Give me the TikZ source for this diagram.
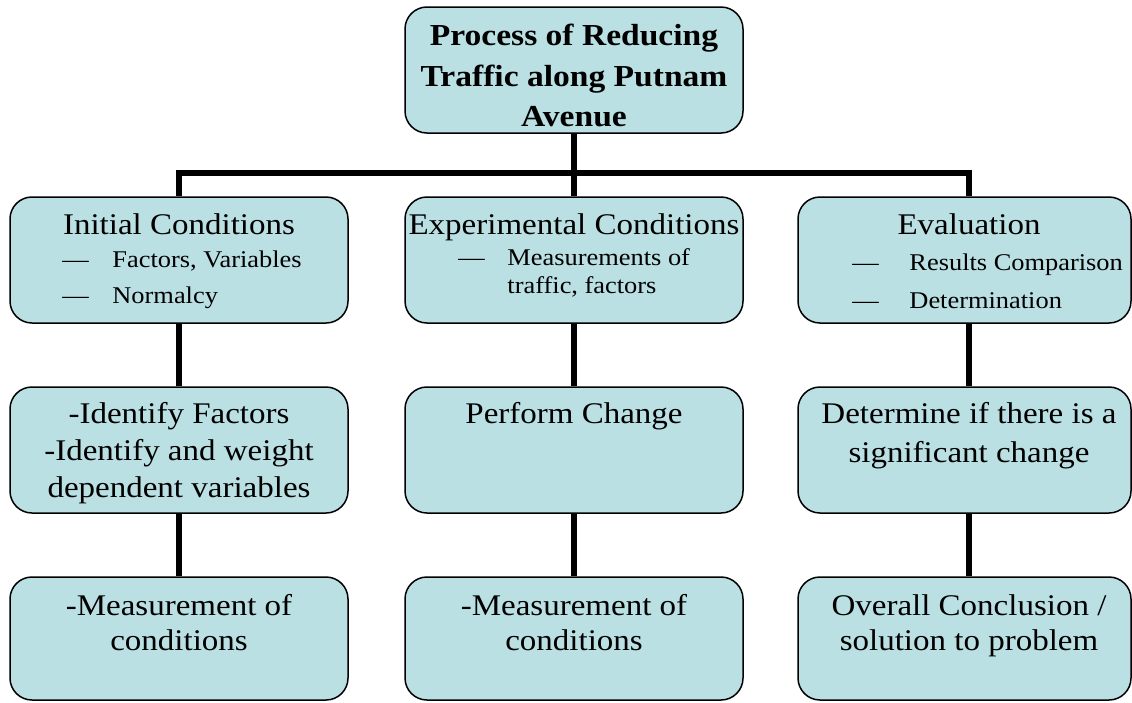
\documentclass[tikz,border=0pt]{standalone}
\usepackage{fontspec}
\setmainfont[FakeStretch=1.1]{Liberation Serif}
\usetikzlibrary{positioning}
\definecolor{boxblue}{RGB}{186,224,227}

\begin{document}
\begin{tikzpicture}[x=1pt, y=-1pt,
	box/.style={draw, line width=1.5pt, fill=boxblue, rounded corners=22pt,
		minimum width=338pt, minimum height=126pt, inner sep=0pt},
	head/.style={inner sep=0pt, anchor=north, align=center, font=\fontsize{30}{37}\selectfont},
	sub/.style={inner sep=0pt, anchor=north west, align=left},
	conn/.style={line width=5.5pt}]
  \useasboundingbox (0,0) rectangle (1132,702);
  \node[box] (proc) at (574,70) {};
  \node[box] (init) at (179,260) {};
  \node[box] (expc) at (574,260) {};
  \node[box, minimum width=333pt] (eval) at (964.5,260) {};
  \node[box] (ifac) at (179,450) {};
  \node[box] (perf) at (574,450) {};
  \node[box, minimum width=333pt] (sign) at (964.5,450) {};
  \node[box, minimum height=123pt] (meas1) at (179,638.5) {};
  \node[box, minimum height=123pt] (meas2) at (574,638.5) {};
  \node[box, minimum width=333pt, minimum height=123pt] (conc) at (964.5,638.5) {};

  \coordinate (bus) at ([yshift=-39pt]proc.south);
  \draw[conn] (proc.south) -- (expc.north);
  \draw[conn] (init.north) |- (bus) -| ([xshift=4.5pt]eval.north);
  \draw[conn] (init.south) -- (ifac.north);
  \draw[conn] (ifac.south) -- (meas1.north);
  \draw[conn] (expc.south) -- (perf.north);
  \draw[conn] (perf.south) -- (meas2.north);
  \draw[conn] ([xshift=4.5pt]eval.south) -- ([xshift=4.5pt]sign.north);
  \draw[conn] ([xshift=4.5pt]sign.south) -- ([xshift=4.5pt]conc.north);

  \node[head, font=\bfseries\fontsize{30.5}{40.5}\selectfont] (proc-t) at ([yshift=-18pt]proc.north)
	{Process of Reducing\\Traffic along Putnam\\Avenue};
  \node[head] (init-t) at ([yshift=-17.5pt]init.north) {Initial Conditions};
  \node[head] (expc-t) at ([yshift=-17.5pt]expc.north) {Experimental Conditions};
  \node[head] (eval-t) at ([xshift=4.5pt, yshift=-17.5pt]eval.north) {Evaluation};
  \node[sub, font=\fontsize{24}{36}\selectfont] (init-s) at ([xshift=53pt, yshift=-54pt]init.north west)
	{\makebox[50pt][l]{—}Factors, Variables\\\makebox[50pt][l]{—}Normalcy};
  \node[sub, font=\fontsize{24}{28}\selectfont] (expc-s) at ([xshift=54pt, yshift=-52pt]expc.north west)
	{\makebox[49pt][l]{—}Measurements of\\\hspace*{49pt}traffic, factors};
  \node[sub, font=\fontsize{24}{38}\selectfont] (eval-s) at ([xshift=55pt, yshift=-57pt]eval.north west)
	{\makebox[57pt][l]{—}Results Comparison\\\makebox[57pt][l]{—}Determination};

  \node[head] (ifac-t) at ([yshift=-16pt]ifac.north)
	{-Identify Factors\\-Identify and weight\\dependent variables};
  \node[head] (perf-t) at ([yshift=-16pt]perf.north) {Perform Change};
  \node[head, font=\fontsize{30}{39}\selectfont] (sign-t) at ([xshift=4.5pt, yshift=-16pt]sign.north)
	{Determine if there is a\\significant change};

  \node[head, font=\fontsize{30}{35}\selectfont] (meas1-t) at ([yshift=-18pt]meas1.north)
	{-Measurement of\\conditions};
  \node[head, font=\fontsize{30}{35}\selectfont] (meas2-t) at ([yshift=-18pt]meas2.north)
	{-Measurement of\\conditions};
  \node[head, font=\fontsize{30}{35}\selectfont] (conc-t) at ([xshift=4.5pt, yshift=-18pt]conc.north)
	{Overall Conclusion /\\solution to problem};
\end{tikzpicture}
\end{document}
